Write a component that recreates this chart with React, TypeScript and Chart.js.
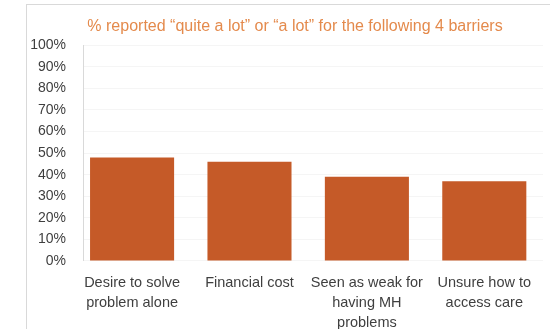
import React, { useEffect, useRef } from "react";
import { Chart, registerables } from "chart.js";

Chart.register(...registerables);

const categories: string[][] = [
  ["Desire to solve", "problem alone"],
  ["Financial cost"],
  ["Seen as weak for", "having MH", "problems"],
  ["Unsure how to", "access care"],
];
const values: number[] = [48, 46, 39, 37];
const yTicks: number[] = [0, 10, 20, 30, 40, 50, 60, 70, 80, 90, 100];
const titleText = "% reported \u201cquite a lot\u201d or \u201ca lot\u201d for the following 4 barriers";
const FONT = "'Liberation Sans', Arial, sans-serif";

export default function App() {
  const ref = useRef<HTMLCanvasElement | null>(null);
  useEffect(() => {
    if (!ref.current) return;
    const chart = new Chart(ref.current, {
      type: "bar",
      data: {
        datasets: [
          {
            data: values.map((v, i) => ({ x: i, y: v })),
            backgroundColor: "#C55A28",
            borderWidth: 0,
            categoryPercentage: 0.716,
            barPercentage: 1,
            yAxisID: "y",
          },
        ],
      },
      options: {
        animation: false,
        responsive: false,
        maintainAspectRatio: false,
        layout: { padding: { left: 3, right: 0, top: 0, bottom: 0 } },
        plugins: {
          legend: { display: false },
          tooltip: { enabled: false },
          title: {
            display: true,
            text: titleText,
            color: "#E48A4C",
            font: { family: FONT, size: 16, weight: "normal" },
            padding: { top: 12, bottom: 9 },
          },
        },
        scales: {
          x: {
            type: "linear",
            min: -0.418,
            max: 3.5,
            offset: false,
            afterBuildTicks: (s: any) => {
              s.ticks = categories.map((_, i) => ({ value: i }));
            },
            grid: { display: false, drawTicks: false },
            border: { display: false },
            ticks: {
              color: "#3F3F3F",
              font: { family: FONT, size: 14.5, lineHeight: 1.38 },
              padding: 12,
              maxRotation: 0,
              autoSkip: false,
              callback: (v: any) => categories[v as number] ?? "",
            },
          },
          y: {
            position: "left",
            min: 0,
            max: 100,
            afterBuildTicks: (s: any) => {
              s.ticks = yTicks.map((v) => ({ value: v }));
            },
            afterFit: (s: any) => {
              s.width = 53;
            },
            grid: { color: "#F5F5F5", drawTicks: false },
            border: { display: true, color: "#D9D9D9" },
            ticks: {
              color: "#3F3F3F",
              font: { family: FONT, size: 14 },
              padding: 17,
              callback: (v: any) => v + "%",
            },
          },
          yRight: {
            position: "right",
            min: 0,
            max: 100,
            grid: { display: false, drawTicks: false },
            border: { display: false },
            ticks: { display: false },
            afterFit: (s: any) => {
              s.width = 17;
            },
          },
        },
      },
    });
    return () => chart.destroy();
  }, []);
  return (
    <div style={{ position: "fixed", left: 0, top: 0, width: 550, height: 329, overflow: "hidden", background: "#fff" }}>
      <div
        style={{
          position: "absolute",
          left: 26,
          top: 4,
          width: 540,
          height: 345,
          borderLeft: "1px solid #D9D9D9",
          borderTop: "1px solid #D9D9D9",
        }}
      >
        <canvas ref={ref} width={533} height={340} style={{ display: "block" }} />
      </div>
    </div>
  );
}
